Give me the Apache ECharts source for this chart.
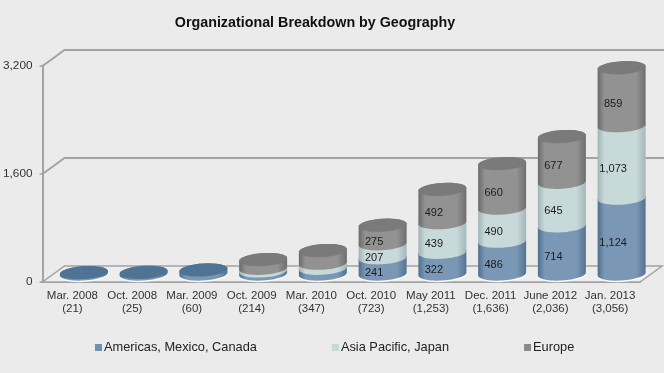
<!DOCTYPE html>
<html>
<head>
<meta charset="utf-8">
<style>
  html, body { margin: 0; padding: 0; background: #ebebeb; }
  #chart { width: 664px; height: 373px; filter: blur(0.35px); }
</style>
<script src="https://cdn.jsdelivr.net/npm/echarts@6/dist/echarts.min.js"></script>
</head>
<body>
<div id="chart"></div>
<script>
const categories = [
  "Mar. 2008\n(21)", "Oct. 2008\n(25)", "Mar. 2009\n(60)", "Oct. 2009\n(214)", "Mar. 2010\n(347)",
  "Oct. 2010\n(723)", "May 2011\n(1,253)", "Dec. 2011\n(1,636)", "June 2012\n(2,036)", "Jan. 2013\n(3,056)"
];
const americas = [21, 25, 60, 45, 85, 241, 322, 486, 714, 1124];
const asiaPacific = [0, 0, 0, 40, 75, 207, 439, 490, 645, 1073];
const europe = [0, 0, 0, 129, 187, 275, 492, 660, 677, 859];
const yTicks = [0, 1600, 3200];
const firstLabelled = 5;

// fake 3d: everything is shifted from the axis position by these
const depthX = 22, depthY = 16;
const rx = 24, ry = 6.5, shear = 0.06;

const stacks = [americas, asiaPacific, europe];

function gradient(edge, mid, edge2) {
  return new echarts.graphic.LinearGradient(0, 0, 1, 0, [
    { offset: 0, color: edge },
    { offset: 0.14, color: mid },
    { offset: 0.8, color: mid },
    { offset: 1, color: edge2 }
  ]);
}

function ellipsePoints(cx, cy, from, to) {
  const pts = [];
  for (let i = 0; i <= 32; i++) {
    const t = from + (to - from) * i / 32;
    pts.push([cx + rx * Math.cos(t), cy + ry * Math.sin(t) - shear * rx * Math.cos(t)]);
  }
  return pts;
}

function renderWalls(params, api) {
  const sys = params.coordSys;
  const right = sys.x + sys.width;
  const lineStyle = { stroke: "#a3a3a3", lineWidth: 2, fill: null };
  const children = [];
  const y0 = api.coord([0, 0])[1];
  children.push({
    type: "polygon",
    shape: { points: [[sys.x, y0], [right, y0], [right + depthX, y0 - depthY], [sys.x + depthX, y0 - depthY]] },
    style: { fill: "#eeeeee", stroke: "#a3a3a3", lineWidth: 1.5 }
  });
  yTicks.slice(1).forEach((v) => {
    const y = api.coord([0, v])[1];
    children.push({
      type: "polyline",
      shape: { points: [[sys.x, y], [sys.x + depthX, y - depthY], [664, y - depthY]] },
      style: lineStyle
    });
  });
  return { type: "group", children: children };
}

function makeRender(seriesIndex, side, capTop) {
  return function (params, api) {
    const i = params.dataIndex;
    const value = stacks[seriesIndex][i];
    if (!value) return null;
    let from = 0;
    for (let s = 0; s < seriesIndex; s++) from += stacks[s][i];
    let isTop = true;
    for (let s = seriesIndex + 1; s < stacks.length; s++) if (stacks[s][i]) isTop = false;

    const low = api.coord([i, from]);
    const high = api.coord([i, from + value]);
    const cx = low[0] + depthX / 2 + 0.5;
    const yLow = low[1] - depthY / 2;
    const yHigh = high[1] - depthY / 2;

    const children = [];
    if (seriesIndex === 0) {
      children.push({
        type: "polygon",
        shape: { points: ellipsePoints(cx, yLow + 1.5, 0, Math.PI * 2) },
        style: { fill: "#fbfbfb" }
      });
    }
    const bodyPts = ellipsePoints(cx, yLow, Math.PI, 0)
      .concat(ellipsePoints(cx, yHigh, 0, -Math.PI));
    children.push({ type: "polygon", shape: { points: bodyPts }, style: { fill: side() } });
    if (isTop) {
      children.push({
        type: "polygon",
        shape: { points: ellipsePoints(cx, yHigh, 0, Math.PI * 2) },
        style: { fill: capTop }
      });
    }
    if (i >= firstLabelled) {
      children.push({
        type: "text",
        x: cx - 8.5,
        y: (yLow + yHigh) / 2 + 7,
        style: {
          text: value.toLocaleString("en-US"),
          font: "11px 'Liberation Sans'",
          fill: "#1c1c1c",
          align: "center",
          verticalAlign: "middle"
        }
      });
    }
    return { type: "group", children: children };
  };
}

const chart = echarts.init(document.getElementById("chart"), null, { renderer: "canvas" });

chart.setOption({
  animation: false,
  backgroundColor: "#ebebeb",
  textStyle: { fontFamily: "'Liberation Sans'" },
  title: {
    text: "Organizational Breakdown by Geography",
    left: 310,
    top: 11,
    textAlign: "center",
    textStyle: { fontSize: 14.3, fontWeight: "bold", color: "#111", fontFamily: "'Liberation Sans'" }
  },
  legend: {
    left: 90,
    top: 336,
    itemWidth: 7,
    itemHeight: 7,
    itemGap: 75,
    icon: "rect",
    data: ["Americas, Mexico, Canada", "Asia Pacific, Japan", "Europe"],
    textStyle: { fontSize: 12.8, color: "#222", padding: [0, 0, 0, -3] }
  },
  grid: { left: 42, right: 24, top: 66, height: 216 },
  xAxis: {
    type: "category",
    data: categories,
    axisLine: { lineStyle: { color: "#a3a3a3", width: 2 } },
    axisTick: { length: 3, lineStyle: { color: "#a3a3a3", width: 1.5 } },
    axisLabel: { fontSize: 11.5, color: "#333", lineHeight: 13, margin: 7, interval: 0 }
  },
  yAxis: {
    type: "value",
    min: 0,
    max: 3200,
    interval: 1600,
    axisLine: { show: true, lineStyle: { color: "#a3a3a3", width: 2 } },
    axisTick: { show: true, length: 3, lineStyle: { color: "#a3a3a3", width: 1.5 } },
    axisLabel: {
      fontSize: 11.8,
      color: "#333",
      margin: 10,
      formatter: (v) => v.toLocaleString("en-US")
    },
    splitLine: { show: false }
  },
  series: [
    { type: "custom", name: "walls", silent: true, renderItem: renderWalls, data: [[0, 0]], z: 1 },
    {
      type: "custom", name: "Americas, Mexico, Canada", silent: true, z: 2,
      itemStyle: { color: "#6f90b0" },
      renderItem: makeRender(0, () => gradient("#4f6f8e", "#7a98b5", "#54738f"), "#4f7392"),
      data: categories.map((c, i) => [i, americas[i]])
    },
    {
      type: "custom", name: "Asia Pacific, Japan", silent: true, z: 3,
      itemStyle: { color: "#c6d8d8" },
      renderItem: makeRender(1, () => gradient("#9fb4b6", "#c8d9d9", "#a3b7b9"), "#b5c8c9"),
      data: categories.map((c, i) => [i, asiaPacific[i]])
    },
    {
      type: "custom", name: "Europe", silent: true, z: 4,
      itemStyle: { color: "#8a8a8a" },
      renderItem: makeRender(2, () => gradient("#6a6a6a", "#929292", "#6e6e6e"), "#7a7a7a"),
      data: categories.map((c, i) => [i, europe[i]])
    }
  ]
});
</script>
</body>
</html>
